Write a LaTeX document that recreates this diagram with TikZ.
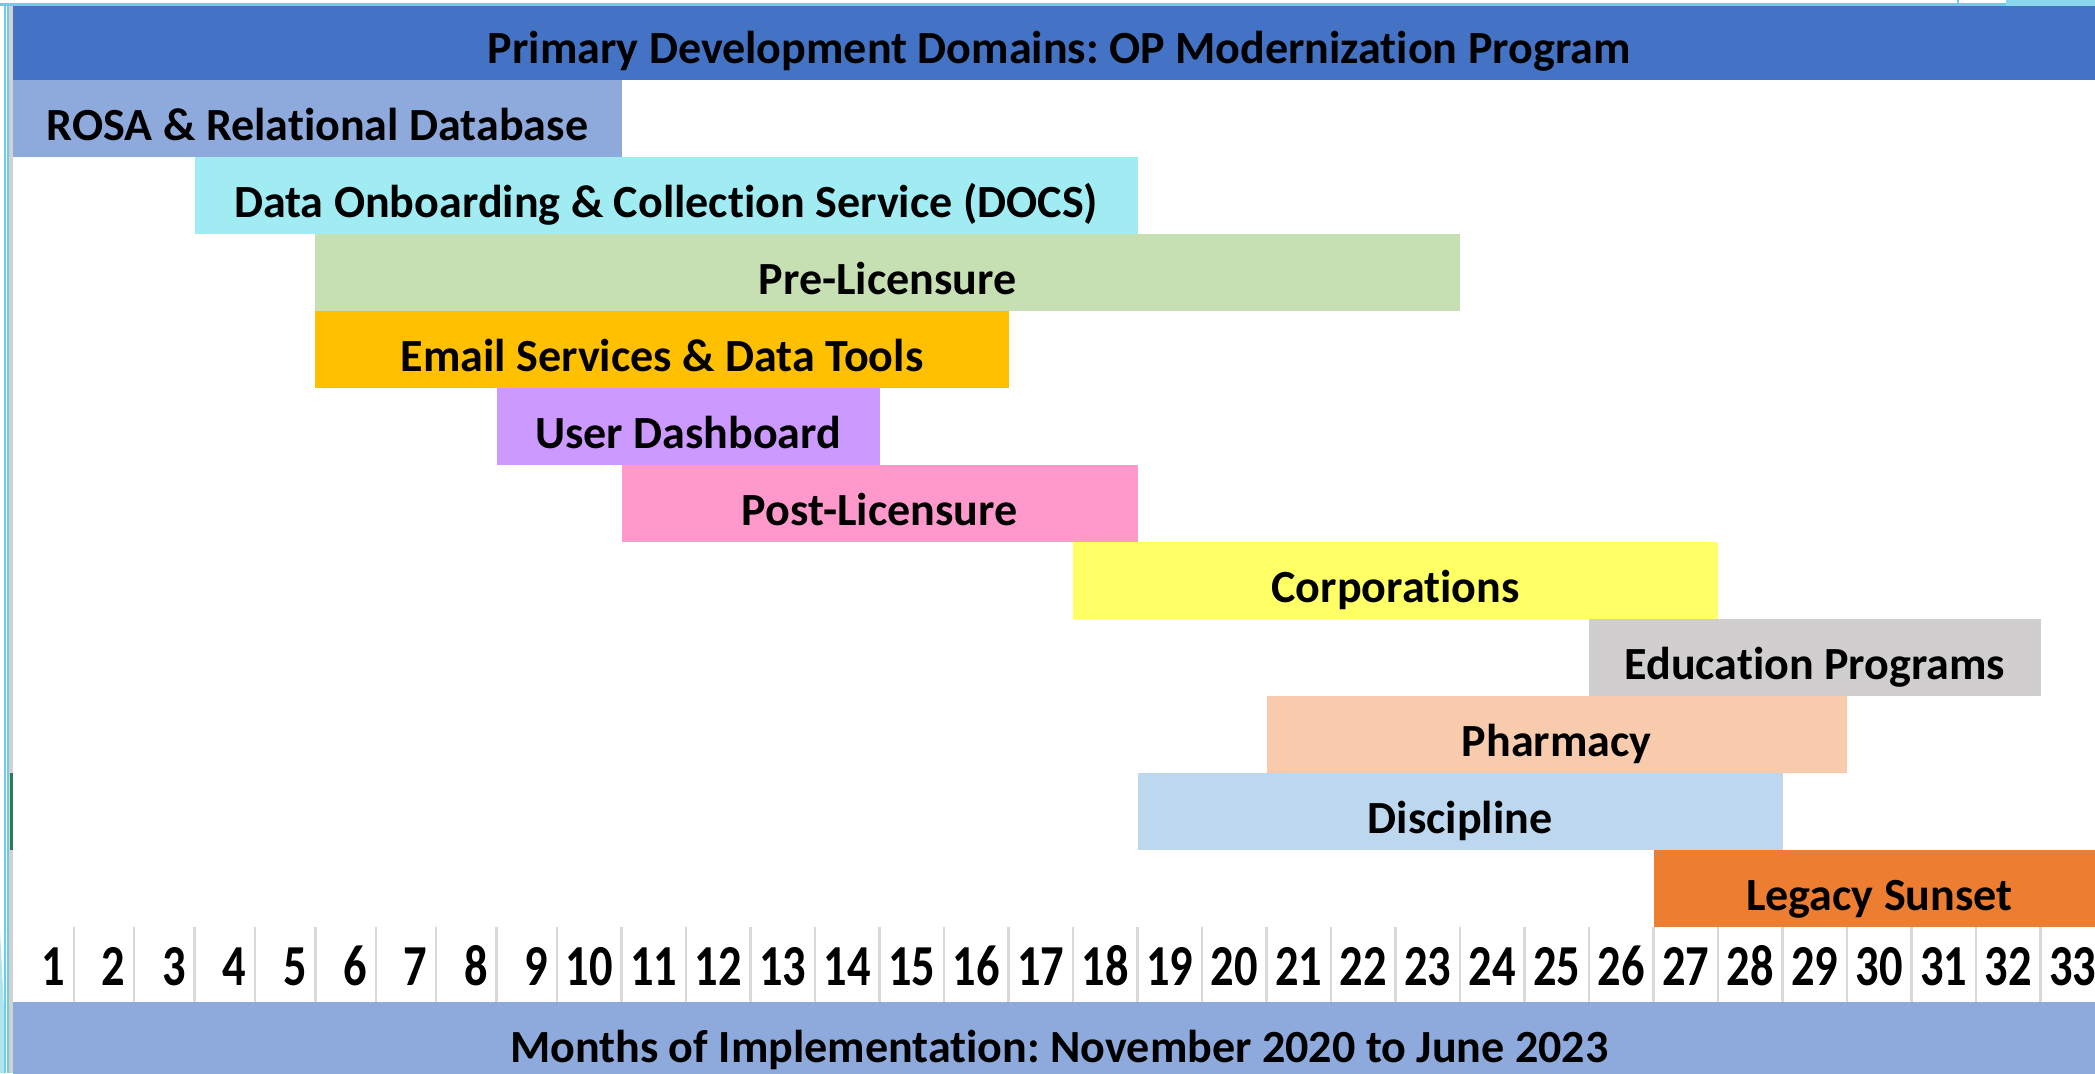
\documentclass[tikz,border=0pt]{standalone}
\usepackage{fontspec}
\setmainfont[Ligatures=NoCommon]{Carlito}
\frenchspacing

\definecolor{titleblue}{HTML}{4472C4}
\definecolor{rosablue}{HTML}{8EA9DB}
\definecolor{docscyan}{HTML}{A0ECF2}
\definecolor{prelicgreen}{HTML}{C6E0B4}
\definecolor{emailgold}{HTML}{FFC000}
\definecolor{dashviolet}{HTML}{CC99FF}
\definecolor{postpink}{HTML}{FF99CC}
\definecolor{corpyellow}{HTML}{FFFF66}
\definecolor{edugray}{HTML}{D0CECE}
\definecolor{pharmpeach}{HTML}{F8CBAD}
\definecolor{discblue}{HTML}{BDD7EE}
\definecolor{legacyorange}{HTML}{ED7D31}
\definecolor{gridgray}{HTML}{D9D9D9}
\definecolor{slidecyan}{HTML}{6CCDE8}
\definecolor{excelgreen}{HTML}{2E7D50}

\begin{document}
\begin{tikzpicture}[x=0.01cm, y=-0.01cm,
    declare function={colx(\q)=(\q<=10)*(13.4+60.4*(\q-1))+(\q>10)*(557+64.5*(\q-10));},
    dombar/.style={anchor=north west, inner sep=0pt, outer sep=0pt,
        minimum height=0.77cm, text height=0.43cm, text depth=0pt,
        font=\fontsize{13.1}{15}\selectfont\bfseries},
    month/.style={anchor=base east, inner sep=0pt,
        font=\fontsize{16.5}{18}\selectfont\bfseries},
    gridline/.style={draw=gridgray, line width=0.7pt}]

    \path[use as bounding box, clip] (0,0) rectangle (2095,1073);
    \fill[white] (0,0) rectangle (2095,1073);

    % header and footer
    \node[dombar, fill=titleblue, minimum width={(colx(34)-colx(1))*0.01cm}] (title) at ({colx(1)},3) {Primary Development Domains: OP Modernization Program};
    \node[dombar, fill=rosablue, minimum width={(colx(34)-colx(1))*0.01cm}] (footer) at ({colx(1)},1002) {Months of Implementation: November 2020 to June 2023};

    % domains
    \node[dombar, fill=rosablue, minimum width={(colx(11)-colx(1))*0.01cm}] (rosa) at ({colx(1)},80) {ROSA \& Relational Database};
    \node[dombar, fill=docscyan, minimum width={(colx(19)-colx(4))*0.01cm}] (docs) at ({colx(4)},157) {Data Onboarding \& Collection Service (DOCS)};
    \node[dombar, fill=prelicgreen, minimum width={(colx(24)-colx(6))*0.01cm}] (prelic) at ({colx(6)},234) {Pre-Licensure};
    \node[dombar, fill=emailgold, minimum width={(colx(17)-colx(6))*0.01cm}] (email) at ({colx(6)},311) {Email Services \& Data Tools};
    \node[dombar, fill=dashviolet, minimum width={(colx(15)-colx(9))*0.01cm}] (dash) at ({colx(9)},388) {User Dashboard};
    \node[dombar, fill=postpink, minimum width={(colx(19)-colx(11))*0.01cm}] (postlic) at ({colx(11)},465) {Post-Licensure};
    \node[dombar, fill=corpyellow, minimum width={(colx(28)-colx(18))*0.01cm}] (corp) at ({colx(18)},542) {Corporations};
    \node[dombar, fill=edugray, minimum width={(colx(33)-colx(26))*0.01cm}] (edu) at ({colx(26)},619) {Education Programs};
    \node[dombar, fill=pharmpeach, minimum width={(colx(30)-colx(21))*0.01cm}] (pharm) at ({colx(21)},696) {Pharmacy};
    \node[dombar, fill=discblue, minimum width={(colx(29)-colx(19))*0.01cm}] (disc) at ({colx(19)},773) {Discipline};
    \node[dombar, fill=legacyorange, minimum width={(colx(34)-colx(27))*0.01cm}] (legacy) at ({colx(27)},850) {Legacy Sunset};

    % month row
    \foreach \i in {2,...,34}
        \draw[gridline] ({colx(\i)},927) -- ({colx(\i)},1002);
    \foreach \i in {1,...,33}
        \node[month] (m\i) at ({colx(\i+1)-8},985) {\scalebox{0.8}[1]{\i}};

    % slide edges
    \fill[slidecyan] (0,3) rectangle (2095,6);
    \fill[slidecyan!80] (2006,0) rectangle (2095,6);
    \fill[slidecyan] (1957,0) rectangle (1959,3);
    \fill[slidecyan] (4,3) rectangle (6,1073);
    \fill[slidecyan] (7,3) rectangle (8.6,1073);
    \fill[gray!35] (9,6) rectangle (13.4,1073);
    \fill[excelgreen] (9.5,773) rectangle (12.5,850);
    \fill[slidecyan!55] (0,930) -- (4,1010) -- (4,1073) -- (0,1073) -- cycle;
\end{tikzpicture}
\end{document}
